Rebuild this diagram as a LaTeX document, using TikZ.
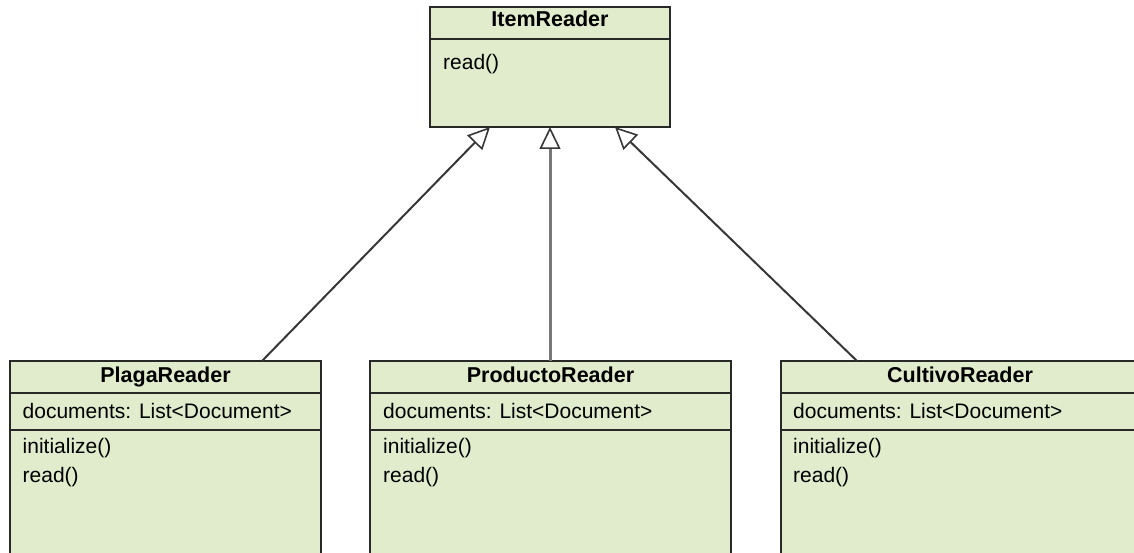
\documentclass[tikz,border=0pt]{standalone}
\usepackage{fontspec}
\setmainfont{Liberation Sans}
\usetikzlibrary{arrows.meta}
\definecolor{classfill}{RGB}{224,236,204}
\definecolor{classline}{RGB}{40,40,40}
\definecolor{linkline}{RGB}{55,55,55}
\definecolor{midline}{RGB}{120,120,120}
\begin{document}
\begin{tikzpicture}[x=1pt,y=-1pt,
  classbox/.style={draw=classline,fill=classfill,line width=2pt,anchor=north west,
    inner sep=0pt,outer sep=0pt},
  divider/.style={draw=classline,line width=2pt},
  title/.style={font=\fontsize{21.5}{25}\selectfont\bfseries,anchor=base,inner sep=0pt},
  member/.style={font=\fontsize{21}{25}\selectfont,anchor=base west,inner sep=0pt},
  inherit/.style={draw=linkline,line width=2pt,
    -{Triangle[length=22pt,width=21pt,fill=white,color=linkline,line width=1.6pt]}}]
\useasboundingbox (0,0) rectangle (1134,553);
\clip (0,0) rectangle (1134,553);

% interface ItemReader
\node[classbox,minimum width=240pt,minimum height=120pt] (item) at (430,7) {};
\draw[divider] (430,39) -- (670,39);
\node[title] (itemT) at (550,27) {ItemReader};
\node[member] (itemR) at (443,69.5) {read()};

% PlagaReader
\node[classbox,minimum width=311pt,minimum height=220pt] (plaga) at (10,361) {};
\draw[divider] (10,393) -- (321,393);
\draw[divider] (10,430) -- (321,430);
\node[title] (plagaT) at (165.5,382) {PlagaReader};
\node[member] (plagaA) at (22.5,418) {documents: List<Document>};
\node[member] (plagaI) at (22.5,453) {initialize()};
\node[member] (plagaR) at (22.5,482) {read()};

% ProductoReader
\node[classbox,minimum width=361pt,minimum height=220pt] (prod) at (370,361) {};
\draw[divider] (370,393) -- (731,393);
\draw[divider] (370,430) -- (731,430);
\node[title] (prodT) at (550.5,382) {ProductoReader};
\node[member] (prodA) at (383,418) {documents: List<Document>};
\node[member] (prodI) at (383,453) {initialize()};
\node[member] (prodR) at (383,482) {read()};

% CultivoReader
\node[classbox,minimum width=358pt,minimum height=220pt] (cult) at (781,361) {};
\draw[divider] (781,393) -- (1139,393);
\draw[divider] (781,430) -- (1139,430);
\node[title] (cultT) at (960,382) {CultivoReader};
\node[member] (cultA) at (793,418) {documents: List<Document>};
\node[member] (cultI) at (793,453) {initialize()};
\node[member] (cultR) at (793,482) {read()};

% attachment points of the generalisation links
\coordinate (plagaTop) at (262,361);
\coordinate (prodTop) at (550,361);
\coordinate (cultTop) at (857,361);
\coordinate (itemL) at (490,127);
\coordinate (itemM) at (550,127);
\coordinate (itemRt) at (615,127);

\draw[inherit] (plagaTop) -- (itemL);
\draw[inherit,draw=midline,line width=3pt] (prodTop) -- (itemM);
\draw[inherit] (cultTop) -- (itemRt);
\end{tikzpicture}
\end{document}
